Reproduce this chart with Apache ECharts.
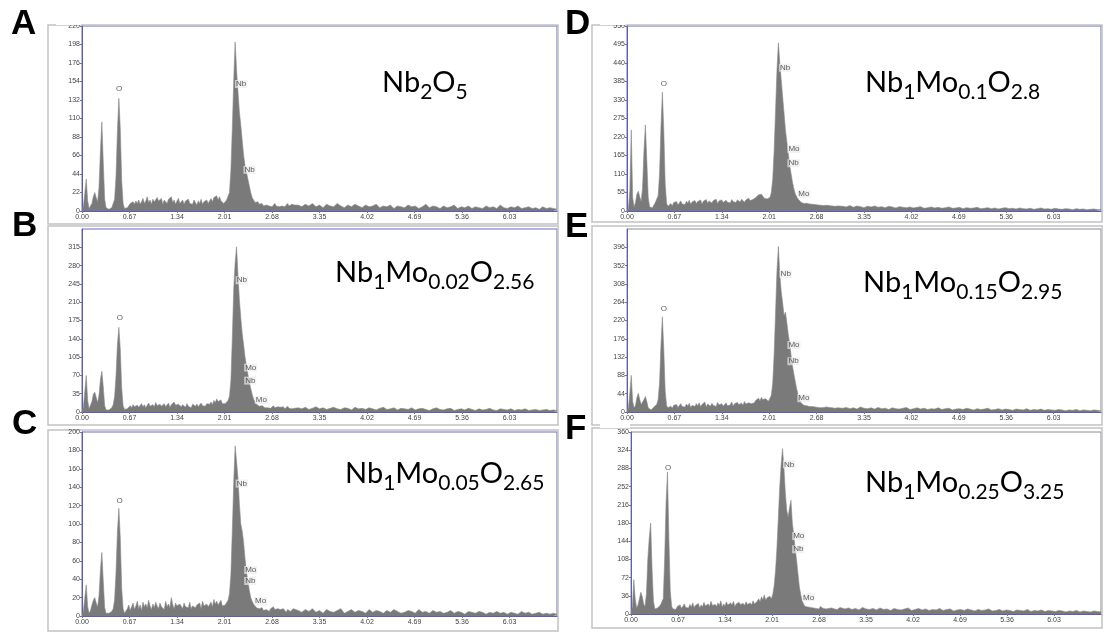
<!DOCTYPE html>
<html>
<head>
<meta charset="utf-8">
<script src="https://cdn.jsdelivr.net/npm/echarts@6/dist/echarts.min.js"></script>
<style>
  html, body { margin: 0; padding: 0; background: #fff; }
  #chart { width: 1104px; height: 641px; }
</style>
</head>
<body>
<div id="chart"></div>
<script>
// ---- EDS spectra: counts per energy channel (keV) ----
// Channels run every 0.02 keV up to 3.00 keV, then every 0.05 keV up to 6.70 keV.
const FINE_STEP = 0.02, FINE_END = 3.0, COARSE_STEP = 0.05, E_MAX = 6.7;
const energy = [];
for (let i = 0; i * FINE_STEP <= FINE_END + 1e-9; i++) energy.push(+(i * FINE_STEP).toFixed(2));
for (let i = 1; FINE_END + i * COARSE_STEP <= E_MAX + 1e-9; i++) energy.push(+(FINE_END + i * COARSE_STEP).toFixed(2));

// X axis tick spacing (keV)
const xTickStep = 0.67;

// Panel letters and sample formulas (element, subscript)
const panelLetters = ['A', 'B', 'C', 'D', 'E', 'F'];
const formulas = [
  [['Nb', '2'], ['O', '5']],
  [['Nb', '1'], ['Mo', '0.02'], ['O', '2.56']],
  [['Nb', '1'], ['Mo', '0.05'], ['O', '2.65']],
  [['Nb', '1'], ['Mo', '0.1'], ['O', '2.8']],
  [['Nb', '1'], ['Mo', '0.15'], ['O', '2.95']],
  [['Nb', '1'], ['Mo', '0.25'], ['O', '3.25']]
];

// Y axis ranges (counts) and tick steps
const yMax = [220, 350, 200, 550, 440, 360];
const yStep = [22, 35, 20, 55, 44, 36];

const countsA = [
  0, 6, 22, 38, 12, 3, 4, 9, 17, 22,
  16, 11, 28, 72, 106, 58, 14, 4, 2, 2,
  3, 4, 6, 14, 42, 96, 134, 98, 36, 9,
  3, 2, 4, 6, 9, 7, 11, 8, 12, 9,
  13, 8, 11, 15, 9, 12, 17, 10, 13, 8,
  14, 11, 9, 16, 12, 10, 15, 8, 13, 11,
  9, 14, 12, 17, 10, 13, 8, 12, 15, 9,
  11, 13, 8, 12, 10, 14, 9, 11, 8, 13,
  10, 7, 12, 9, 14, 8, 11, 10, 13, 9,
  12, 15, 11, 16, 14, 18, 13, 17, 12, 10,
  9, 11, 13, 15, 22, 48, 98, 155, 201, 168,
  142, 118, 102, 84, 66, 54, 46, 38, 30, 22,
  16, 13, 10, 9, 11, 8, 7, 9, 6, 8,
  7, 9, 6, 8, 5, 7, 9, 6, 8, 5,
  7, 6, 8, 5, 7, 9, 6, 5, 8, 6,
  7,
  7, 5, 8, 6, 9, 5, 7, 4, 8, 6,
  5, 9, 6, 4, 7, 5, 8, 6, 4, 7,
  5, 6, 8, 4, 6, 5, 7, 3, 6, 5,
  4, 7, 5, 6, 3, 5, 8, 4, 6, 5,
  3, 6, 4, 5, 7, 3, 5, 4, 6, 3,
  5, 4, 3, 6, 4, 5, 3, 7, 4, 3,
  5, 4, 6, 3, 4, 5, 3, 4, 2, 5,
  3, 4, 3, 2
];

const countsB = [
  0, 10, 40, 70, 22, 6, 8, 20, 34, 38,
  28, 18, 32, 62, 78, 48, 12, 4, 3, 4,
  5, 8, 14, 30, 70, 130, 162, 120, 46, 12,
  5, 4, 6, 9, 12, 8, 14, 10, 7, 13,
  9, 12, 16, 10, 14, 8, 13, 17, 11, 9,
  14, 10, 18, 12, 9, 15, 11, 13, 16, 10,
  12, 17, 9, 14, 11, 19, 13, 10, 15, 12,
  10, 14, 12, 9, 16, 11, 13, 8, 15, 12,
  11, 15, 10, 13, 17, 12, 14, 11, 16, 13,
  15, 19, 14, 22, 18, 25, 20, 17, 23, 16,
  14, 16, 18, 22, 30, 60, 140, 235, 285, 316,
  262, 215, 180, 150, 128, 105, 88, 72, 58, 45,
  34, 25, 19, 15, 13, 11, 10, 12, 9, 8,
  10, 8, 11, 7, 9, 12, 8, 6, 10, 7,
  9, 7, 10, 6, 8, 11, 7, 9, 6, 8,
  7,
  8, 6, 9, 5, 7, 10, 6, 8, 5, 7,
  9, 6, 5, 8, 7, 4, 9, 6, 7, 5,
  8, 6, 4, 7, 9, 5, 6, 8, 4, 7,
  6, 5, 8, 4, 6, 7, 5, 3, 6, 8,
  5, 4, 6, 7, 3, 5, 6, 4, 7, 5,
  3, 6, 4, 5, 7, 4, 3, 6, 5, 4,
  6, 3, 5, 4, 6, 3, 4, 5, 3, 4,
  5, 3, 4, 3
];

const countsC = [
  0, 6, 20, 34, 10, 3, 6, 12, 17, 20,
  14, 10, 22, 50, 69, 38, 9, 3, 2, 3,
  3, 5, 8, 18, 48, 92, 117, 85, 30, 8,
  3, 4, 8, 12, 6, 10, 14, 7, 11, 16,
  8, 12, 6, 15, 10, 13, 9, 17, 11, 7,
  13, 9, 15, 11, 8, 14, 10, 12, 7, 16,
  10, 13, 9, 20, 12, 8, 14, 11, 9, 13,
  11, 8, 14, 10, 12, 9, 15, 8, 11, 13,
  9, 12, 10, 14, 8, 16, 11, 9, 13, 10,
  12, 15, 10, 18, 13, 16, 12, 14, 17, 11,
  10, 12, 14, 17, 24, 45, 92, 145, 185, 168,
  150, 122, 100, 92, 80, 62, 48, 38, 28, 20,
  16, 13, 11, 9, 10, 8, 7, 9, 6, 8,
  7, 9, 5, 8, 6, 10, 7, 5, 8, 6,
  7, 5, 8, 6, 4, 7, 9, 5, 6, 8,
  6,
  6, 4, 7, 5, 8, 4, 6, 3, 7, 5,
  4, 6, 8, 3, 5, 7, 4, 6, 5, 3,
  7, 4, 6, 5, 3, 6, 4, 7, 5, 3,
  4, 6, 5, 3, 7, 4, 5, 3, 6, 4,
  5, 3, 4, 6, 3, 5, 4, 2, 5, 4,
  3, 5, 4, 2, 4, 3, 5, 3, 4, 2,
  4, 3, 2, 5, 3, 4, 2, 3, 4, 2,
  3, 2, 3, 2
];

const countsD = [
  0, 8, 60, 241, 40, 12, 25, 50, 59, 42,
  28, 70, 180, 256, 150, 40, 12, 8, 10, 15,
  25, 30, 45, 110, 250, 353, 240, 80, 22, 14,
  18, 22, 15, 25, 20, 28, 18, 24, 30, 21,
  26, 19, 29, 23, 32, 20, 27, 24, 31, 22,
  28, 25, 33, 21, 29, 26, 34, 23, 30, 27,
  24, 31, 28, 35, 22, 30, 27, 33, 25, 29,
  32, 26, 30, 24, 34, 28, 31, 25, 33, 29,
  27, 35, 30, 26, 33, 29, 38, 31, 36, 34,
  36, 40, 44, 48, 46, 50, 44, 38, 34, 36,
  34, 40, 55, 95, 180, 300, 420, 500, 440, 390,
  340, 290, 240, 205, 170, 135, 110, 85, 65, 50,
  42, 35, 30, 26, 24, 22, 20, 23, 19, 21,
  18, 20, 17, 19, 16, 18, 15, 17, 19, 16,
  15, 17, 14, 16, 13, 15, 17, 14, 12, 15,
  14,
  14, 12, 16, 11, 15, 13, 10, 14, 12, 15,
  11, 13, 10, 14, 12, 9, 13, 11, 10, 12,
  9, 11, 13, 8, 10, 12, 9, 11, 8, 10,
  12, 8, 9, 11, 7, 10, 8, 9, 11, 7,
  8, 10, 7, 9, 6, 8, 10, 7, 8, 6,
  9, 7, 6, 8, 5, 7, 9, 6, 7, 5,
  8, 6, 5, 7, 6, 4, 7, 5, 6, 4,
  5, 6, 4, 5
];

const countsE = [
  0, 10, 45, 88, 25, 10, 15, 35, 45, 30,
  18, 22, 30, 37, 25, 10, 6, 5, 8, 12,
  15, 18, 30, 70, 160, 229, 150, 50, 15, 10,
  10, 14, 9, 16, 12, 18, 11, 15, 20, 13,
  17, 12, 19, 14, 21, 11, 16, 18, 13, 20,
  15, 22, 13, 18, 16, 24, 12, 19, 17, 14,
  21, 16, 19, 13, 23, 17, 15, 20, 14, 18,
  22, 15, 19, 17, 24, 14, 20, 16, 23, 18,
  17, 21, 16, 25, 19, 15, 22, 18, 20, 24,
  22, 28, 25, 33, 27, 35, 30, 26, 32, 28,
  26, 30, 40, 70, 140, 240, 340, 398, 330, 290,
  262, 232, 240, 214, 186, 165, 135, 110, 90, 72,
  55, 40, 29, 22, 18, 16, 14, 15, 12, 13,
  11, 13, 10, 12, 9, 11, 13, 10, 8, 11,
  10, 12, 9, 11, 8, 10, 12, 9, 7, 10,
  9,
  9, 11, 8, 10, 7, 12, 9, 8, 10, 7,
  11, 8, 9, 6, 10, 8, 7, 9, 11, 6,
  8, 10, 7, 9, 6, 8, 7, 10, 6, 8,
  9, 5, 7, 8, 6, 9, 7, 5, 8, 6,
  7, 9, 5, 6, 8, 5, 7, 6, 4, 7,
  6, 5, 8, 4, 6, 5, 7, 4, 6, 5,
  4, 6, 5, 3, 5, 4, 6, 3, 5, 4,
  3, 5, 4, 3
];

const countsF = [
  0, 15, 68, 30, 12, 18, 30, 43, 35, 20,
  15, 40, 110, 150, 180, 90, 25, 10, 8, 12,
  14, 18, 24, 30, 110, 220, 281, 150, 45, 15,
  10, 13, 9, 15, 12, 18, 11, 14, 20, 13,
  16, 12, 19, 14, 22, 13, 17, 15, 21, 12,
  18, 14, 23, 16, 13, 20, 15, 25, 17, 14,
  19, 15, 22, 17, 26, 14, 20, 16, 24, 18,
  16, 22, 18, 25, 15, 20, 17, 23, 19, 16,
  21, 17, 24, 19, 16, 22, 18, 26, 20, 23,
  25, 30, 24, 34, 28, 38, 27, 32, 29, 35,
  30, 38, 55, 85, 130, 190, 250, 295, 327, 290,
  240, 205, 192, 210, 225, 180, 156, 130, 107, 80,
  54, 38, 26, 20, 15, 17, 14, 16, 13, 15,
  12, 14, 11, 13, 10, 15, 12, 11, 14, 10,
  13, 11, 9, 12, 14, 10, 12, 9, 11, 13,
  10,
  10, 12, 9, 11, 8, 13, 10, 9, 11, 8,
  12, 9, 10, 7, 11, 9, 8, 10, 12, 7,
  9, 11, 8, 10, 7, 9, 8, 11, 7, 9,
  10, 6, 8, 9, 7, 10, 8, 6, 9, 7,
  8, 10, 6, 7, 9, 6, 8, 7, 5, 8,
  7, 6, 9, 5, 7, 6, 8, 5, 7, 6,
  5, 7, 6, 4, 6, 5, 7, 4, 6, 5,
  4, 6, 5, 4
];

// Peak identification labels: [energy keV, count level, element]
const labelsA = [[0.525, 145, 'O'], [2.15, 151, 'Nb'], [2.27, 49, 'Nb']];
const labelsB = [[0.534, 180, 'O'], [2.16, 252, 'Nb'], [2.28, 85, 'Mo'], [2.28, 60, 'Nb'], [2.43, 23, 'Mo']];
const labelsC = [[0.53, 125, 'O'], [2.16, 144, 'Nb'], [2.28, 50, 'Mo'], [2.28, 38, 'Nb'], [2.42, 16, 'Mo']];
const labelsD = [[0.52, 378, 'O'], [2.14, 426, 'Nb'], [2.26, 184, 'Mo'], [2.26, 142, 'Nb'], [2.40, 50, 'Mo']];
const labelsE = [[0.52, 247, 'O'], [2.15, 332, 'Nb'], [2.26, 161, 'Mo'], [2.26, 122, 'Nb'], [2.40, 33, 'Mo']];
const labelsF = [[0.53, 289, 'O'], [2.16, 296, 'Nb'], [2.29, 154, 'Mo'], [2.29, 128, 'Nb'], [2.43, 33, 'Mo']];

const counts = [countsA, countsB, countsC, countsD, countsE, countsF];
const peakLabels = [labelsA, labelsB, labelsC, labelsD, labelsE, labelsF];

// ---- Layout (pixels) ----
// trimTop: the outer frame cuts through the topmost count label
const layout = [
  { grid: [82, 26, 475, 185], box: [48, 25, 510, 199], letter: [11, 7], formula: [382, 63], frame: '#6a6ac6', showMax: true, trimTop: true },
  { grid: [82, 229, 475, 183], box: [48, 226, 510, 199], letter: [12, 209], formula: [335, 253], frame: '#6a6ac6', showMax: false, trimTop: false },
  { grid: [82, 432, 475, 184], box: [48, 430, 510, 201], letter: [12, 407], formula: [345, 454], frame: '#6a6ac6', showMax: true, trimTop: false },
  { grid: [627, 26, 474, 185], box: [592, 25, 510, 197], letter: [565, 7], formula: [865, 63], frame: '#6a6ac6', showMax: true, trimTop: true },
  { grid: [627, 229, 474, 183], box: [592, 226, 510, 199], letter: [565, 210], formula: [863, 263], frame: '#8a8a9a', showMax: false, trimTop: false },
  { grid: [631, 432, 470, 182], box: [592, 428, 510, 200], letter: [565, 412], formula: [865, 463], frame: '#8a8a9a', showMax: true, trimTop: true }
];

const AXIS_BLUE = '#5c5cc0';
const SPECTRUM_GRAY = '#7a7a7a';
const tickFont = { fontFamily: 'Liberation Sans', fontSize: 7, color: '#444' };

const grids = [], xAxes = [], yAxes = [], series = [], titles = [], graphics = [];

layout.forEach((L, i) => {
  grids.push({
    left: L.grid[0], top: L.grid[1], width: L.grid[2], height: L.grid[3],
    show: true, borderColor: L.frame, borderWidth: 1, backgroundColor: '#fff'
  });
  xAxes.push({
    type: 'value', gridIndex: i, min: 0, max: E_MAX, interval: xTickStep,
    axisLine: { show: true, onZero: false, lineStyle: { color: AXIS_BLUE, width: 1 } },
    axisTick: { show: true, length: 2, lineStyle: { color: '#777' } },
    splitLine: { show: false },
    axisLabel: Object.assign({ margin: 3, showMaxLabel: false, formatter: v => v.toFixed(2) }, tickFont)
  });
  yAxes.push({
    type: 'value', gridIndex: i, min: 0, max: yMax[i], interval: yStep[i],
    axisLine: { show: true, lineStyle: { color: AXIS_BLUE, width: 1 } },
    axisTick: { show: true, length: 2, lineStyle: { color: '#777' } },
    splitLine: { show: false },
    axisLabel: Object.assign({ margin: 2, showMaxLabel: L.showMax }, tickFont)
  });
  // spectrum as a filled trace
  series.push({
    type: 'line', xAxisIndex: i, yAxisIndex: i,
    data: energy.map((e, k) => [e, counts[i][k]]),
    symbol: 'none', showSymbol: false, smooth: false,
    lineStyle: { color: '#8a8a8a', width: 0.6 },
    areaStyle: { color: SPECTRUM_GRAY, opacity: 1 },
    silent: true, z: 2
  });
  // element labels
  series.push({
    type: 'scatter', xAxisIndex: i, yAxisIndex: i,
    symbolSize: 1, itemStyle: { color: 'rgba(0,0,0,0)' },
    data: peakLabels[i].map(p => ({
      value: [p[0], p[1]], name: p[2],
      label: p[2] === 'O'
        ? { position: 'inside', backgroundColor: 'transparent' }
        : { position: 'right', distance: 0 }
    })),
    label: {
      show: true, formatter: p => p.name,
      fontFamily: 'Liberation Sans', fontSize: 8, color: '#333',
      backgroundColor: 'rgba(236,236,236,0.85)', padding: [0, 1]
    },
    silent: true, z: 5
  });
  // panel letter
  titles.push({
    left: L.letter[0], top: L.letter[1], padding: 0, text: panelLetters[i],
    textStyle: { fontFamily: 'Liberation Sans', fontWeight: 'bold', fontSize: 35, color: '#000' }
  });
  // sample formula with subscripts
  titles.push({
    left: L.formula[0], top: L.formula[1], padding: 0,
    text: formulas[i].map(([el, sub]) => `{m|${el}}{s|${sub}}`).join(''),
    textStyle: {
      fontWeight: 'normal',
      rich: {
        m: { fontFamily: 'Lato', fontWeight: 'normal', fontSize: 29, lineHeight: 40, color: '#000' },
        s: { fontFamily: 'Lato', fontWeight: 'normal', fontSize: 21, lineHeight: 21, verticalAlign: 'bottom', color: '#000' }
      }
    }
  });
  // outer panel frame
  graphics.push({
    type: 'rect', shape: { x: L.box[0], y: L.box[1], width: L.box[2], height: L.box[3] },
    style: { fill: 'none', stroke: '#c2c2c2', lineWidth: 1.5 }, silent: true, z: 0
  });
  if (L.trimTop) {
    graphics.push({
      type: 'rect', shape: { x: L.box[0] + 8, y: L.box[1] - 8, width: L.grid[0] - L.box[0] - 9, height: 8 },
      style: { fill: '#fff' }, silent: true, z: 100
    });
  }
});

const chart = echarts.init(document.getElementById('chart'), null, { renderer: 'canvas' });
chart.setOption({
  animation: false,
  backgroundColor: '#fff',
  title: titles,
  grid: grids,
  xAxis: xAxes,
  yAxis: yAxes,
  series: series,
  graphic: graphics
});
</script>
</body>
</html>
